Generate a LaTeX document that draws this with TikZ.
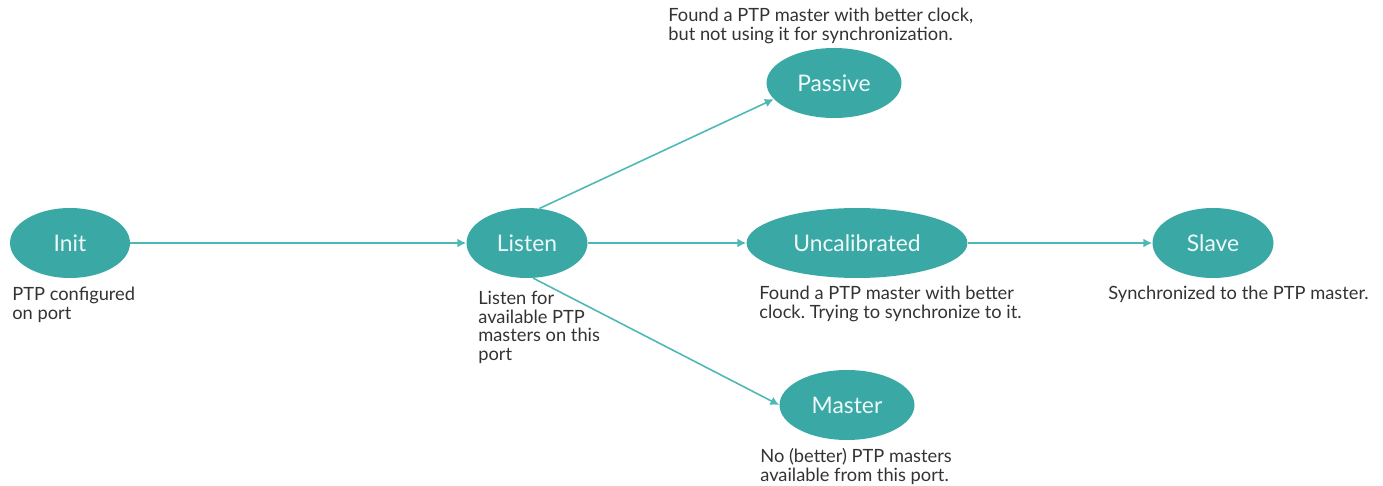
\documentclass[tikz,border=0pt]{standalone}
\usepackage{fontspec}
\setmainfont{Lato}
\usetikzlibrary{arrows.meta}
\usetikzlibrary{positioning}
\usetikzlibrary{shapes.geometric}
\definecolor{teal1}{HTML}{3AA9A5}
\definecolor{teal2}{HTML}{4DB8B6}
\definecolor{note}{HTML}{333333}

\begin{document}
\frenchspacing
\begin{tikzpicture}[x=0.02cm,y=-0.02cm,
  state/.style={ellipse,fill=teal1,text=white!92!teal1,minimum height=1.4cm,inner sep=0pt,font=\fontsize{13}{15}\selectfont},
  info/.style={anchor=north west,align=left,text=note,inner sep=0pt,font=\fontsize{10.4}{10.6}\selectfont},
  link/.style={draw=teal2,line width=0.9pt,-{Latex[length=5pt,width=5pt]}}]
  \useasboundingbox (0,0) rectangle (1383,486);
  \node[state,minimum width=2.4cm] (init) at (70,243) {Init};
  \node[state,minimum width=2.42cm] (listen) at (527,243) {Listen};
  \node[state,minimum width=2.7cm] (passive) at (834,83) {Passive};
  \node[state,minimum width=4.42cm] (uncal) at (857,243) {Uncalibrated};
  \node[state,minimum width=2.42cm] (slave) at (1213,243) {Slave};
  \node[state,minimum width=2.7cm] (master) at (847,405) {Master};
  % notes
  \node[info] (initnote) at (12,287) {PTP configured\\on port};
  \node[info] (listennote) at (478,291) {Listen for\\available PTP\\masters on this\\port};
  \node[info] (passivenote) at (668,8) {Found a PTP master with better clock,\\but not using it for synchronization.};
  \node[info] (uncalnote) at (759,286) {Found a PTP master with better\\clock. Trying to synchronize to it.};
  \node[info] (slavenote) at (1108,286) {Synchronized to the PTP master.};
  \node[info] (masternote) at (760,448) {No (better) PTP masters\\available from this port.};
  % transitions
  \draw[link](init)--(listen);
  \draw[link](listen.70)--(passive.195);
  \draw[link](listen)--(uncal);
  \draw[link](uncal)--(slave);
  \draw[link](listen.-80)--(master.180);
\end{tikzpicture}
\end{document}
